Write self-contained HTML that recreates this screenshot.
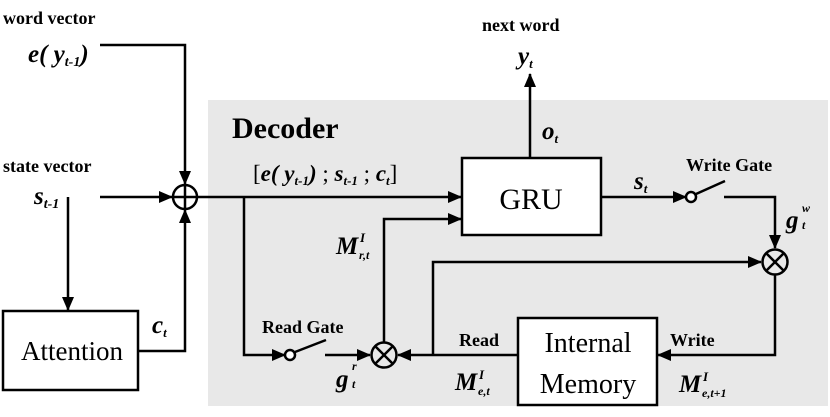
<!DOCTYPE html>
<html><head><style>body{margin:0;background:#fff}svg{display:block}
text{font-family:"Liberation Serif",serif;fill:#000}
.b{font-weight:bold}.i{font-style:italic;font-weight:bold}
</style></head><body>
<svg width="830" height="417" viewBox="0 0 830 417" xmlns="http://www.w3.org/2000/svg">
<defs><marker id="A" markerWidth="14" markerHeight="12" refX="13" refY="6" orient="auto" markerUnits="userSpaceOnUse"><path d="M0,0 L14,6 L0,12 z" fill="#000"/></marker></defs>
<rect x="208" y="100" width="620" height="306" fill="#e8e8e8"/>
<g stroke="#000" stroke-width="2.5" fill="none">
<rect x="462" y="158" width="139" height="77" fill="#fff"/>
<rect x="518" y="318" width="139" height="87" fill="#fff"/>
<rect x="3" y="311" width="135" height="79" fill="#fff"/>
<circle cx="185" cy="197" r="12"/><line x1="173" y1="197" x2="197" y2="197"/><line x1="185" y1="185" x2="185" y2="209"/>
<circle cx="775" cy="262" r="12.5"/><line x1="766" y1="253" x2="784" y2="271"/><line x1="784" y1="253" x2="766" y2="271"/>
<circle cx="384" cy="355" r="12.5"/><line x1="375" y1="346" x2="393" y2="364"/><line x1="393" y1="346" x2="375" y2="364"/>
<path d="M100,45 H185 V184" marker-end="url(#A)"/>
<path d="M100,197 H172" marker-end="url(#A)"/>
<path d="M68,197 V310" marker-end="url(#A)"/>
<path d="M138,351 H185 V210" marker-end="url(#A)"/>
<path d="M197,197 H461" marker-end="url(#A)"/>
<path d="M530,158 V74" marker-end="url(#A)"/>
<path d="M601,197 H686" marker-end="url(#A)"/>
<circle cx="691" cy="197" r="5" fill="#fff"/>
<line x1="696" y1="194" x2="725" y2="181"/>
<path d="M724,197 H775 V248" marker-end="url(#A)"/>
<path d="M433,355 V262 H761" marker-end="url(#A)"/>
<path d="M775,275 V355 H658" marker-end="url(#A)"/>
<path d="M518,355 H398" marker-end="url(#A)"/>
<path d="M384,342 V219 H461" marker-end="url(#A)"/>
<path d="M244,197 V355 H285" marker-end="url(#A)"/>
<circle cx="290" cy="355" r="5" fill="#fff"/>
<line x1="295" y1="352" x2="326" y2="340"/>
<path d="M325,355 H370" marker-end="url(#A)"/>
</g>
<text x="3" y="24" class="b" font-size="18">word vector</text>
<text x="28" y="62" class="i" font-size="25">e( y<tspan font-size="14" dy="4">t-1</tspan><tspan dy="-4">)</tspan></text>
<text x="3" y="172" class="b" font-size="18">state vector</text>
<text x="34" y="204" class="i" font-size="25">s<tspan font-size="14" dy="4">t-1</tspan></text>
<text x="232" y="138" class="b" font-size="30">Decoder</text>
<text x="253" y="181" font-size="23">[<tspan class="i">e( y<tspan font-size="13" dy="4">t-1</tspan><tspan dy="-4">)</tspan></tspan> ; <tspan class="i">s<tspan font-size="13" dy="4">t-1</tspan></tspan><tspan dy="-4"> ; </tspan><tspan class="i">c<tspan font-size="13" dy="4">t</tspan></tspan><tspan dy="-4">]</tspan></text>
<text x="482" y="31" class="b" font-size="18">next word</text>
<text x="518" y="64" class="i" font-size="25">y<tspan font-size="13" dy="4">t</tspan></text>
<text x="542" y="139" class="i" font-size="25">o<tspan font-size="13" dy="4">t</tspan></text>
<text x="531" y="209" font-size="30" text-anchor="middle">GRU</text>
<text x="634" y="189" class="i" font-size="25">s<tspan font-size="13" dy="4">t</tspan></text>
<text x="686" y="171" class="b" font-size="18">Write Gate</text>
<text x="786" y="228" class="i" font-size="25">g</text><text x="802" y="212" class="i" font-size="12">w</text><text x="802" y="229" class="i" font-size="12">t</text>
<text x="336" y="254" class="i" font-size="25">M</text><text x="360" y="242" class="i" font-size="13">I</text><text x="359" y="259" class="i" font-size="12">r,t</text>
<text x="262" y="333" class="b" font-size="18">Read Gate</text>
<text x="336" y="387" class="i" font-size="25">g</text><text x="352" y="370" class="i" font-size="12">r</text><text x="352" y="388" class="i" font-size="12">t</text>
<text x="459" y="346" class="b" font-size="18">Read</text>
<text x="455" y="390" class="i" font-size="25">M</text><text x="479" y="379" class="i" font-size="13">I</text><text x="478" y="395" class="i" font-size="12">e,t</text>
<text x="670" y="346" class="b" font-size="18">Write</text>
<text x="679" y="392" class="i" font-size="25">M</text><text x="703" y="381" class="i" font-size="13">I</text><text x="702" y="397" class="i" font-size="12">e,t+1</text>
<text x="588" y="352" font-size="28" text-anchor="middle">Internal</text>
<text x="588" y="393" font-size="28" text-anchor="middle">Memory</text>
<text x="72" y="360" font-size="27" text-anchor="middle">Attention</text>
<text x="152" y="333" class="i" font-size="25">c<tspan font-size="13" dy="4">t</tspan></text>
</svg>
</body></html>
